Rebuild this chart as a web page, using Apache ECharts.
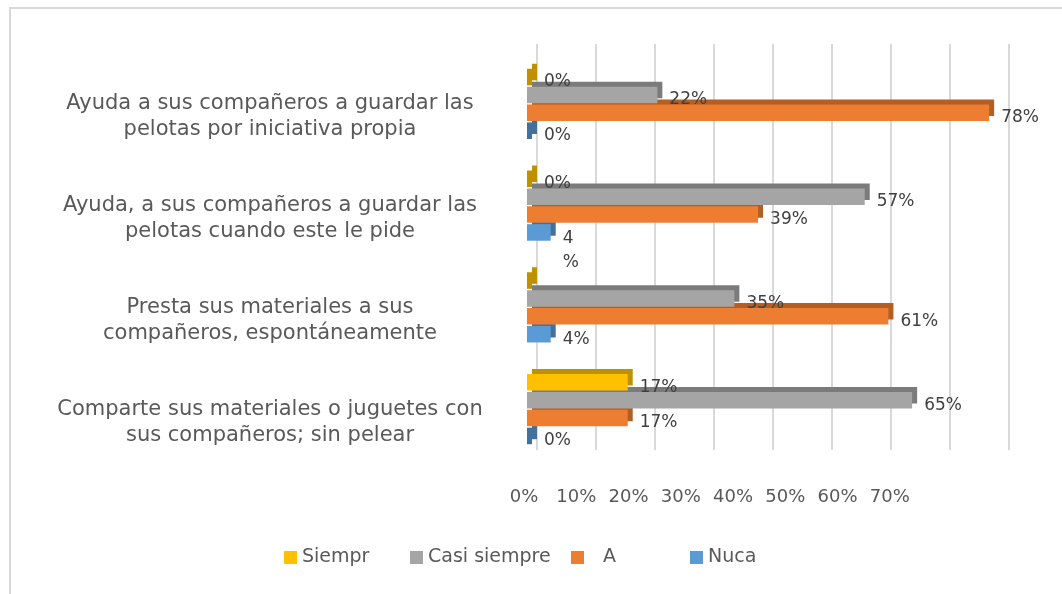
<!DOCTYPE html>
<html>
<head>
<meta charset="utf-8">
<script src="https://cdn.jsdelivr.net/npm/echarts@6/dist/echarts.min.js"></script>
<style>
  html, body { margin: 0; padding: 0; background: #fff; overflow: hidden; }
  #frame { position: absolute; left: 9px; top: 7px; width: 1100px; height: 640px; border: 2px solid #d9d9d9; box-sizing: border-box; }
  #chart { position: absolute; left: 0; top: 0; width: 1062px; height: 594px; }
</style>
</head>
<body>
<div id="frame"></div>
<div id="chart"></div>
<script>
// categorias (de arriba a abajo)
var categorias = [
  'Ayuda a sus compañeros a guardar las\npelotas por iniciativa propia',
  'Ayuda, a sus compañeros a guardar las\npelotas cuando este le pide',
  'Presta sus materiales a sus\ncompañeros, espontáneamente',
  'Comparte sus materiales o juguetes con\nsus compañeros; sin pelear'
];
var series_nombres = ['Siempr', 'Casi siempre', 'A', 'Nuca'];

// valores en %
var siempre = [0, 0, 0, 17];
var casiSiempre = [22, 57, 35, 65];
var aVeces = [78, 39, 61, 17];
var nunca = [0, 4, 4, 0];

// etiquetas del eje (0% .. 70%)
var ticks = [0, 10, 20, 30, 40, 50, 60, 70];

var colores = ['#FFC000', '#A5A5A5', '#ED7D31', '#5B9BD5'];
var oscuros = ['#BF9000', '#7B7B7B', '#B35E24', '#41719C'];

var fuente = 'DejaVu Sans';

var myChart = echarts.init(document.getElementById('chart'));

function serie(i, valores) {
  return {
    name: series_nombres[i],
    type: 'bar',
    xAxisIndex: 0,
    yAxisIndex: 0,
    z: 10 - i,  // las barras de arriba tapan la cara superior de las de abajo
    barGap: '8%',
    barCategoryGap: '31%',
    barMinHeight: 5,
    data: valores.map(function (v, k) {
      var item = { value: v };
      if (v === 0) item.itemStyle = { color: oscuros[i] };
      // en el original la etiqueta "4%" sale partida en dos lineas
      if (i === 3 && k === 1) item.label = { formatter: '{c}\n%', offset: [0, 18] };
      // y esta etiqueta no aparece
      if (i === 0 && k === 2) item.label = { show: false };
      return item;
    }),
    itemStyle: {
      color: colores[i],
      shadowColor: oscuros[i],
      shadowOffsetX: 5,
      shadowOffsetY: -5,
      shadowBlur: 0
    },
    label: {
      show: true,
      position: 'right',
      distance: 12,
      offset: [0, 5],
      fontFamily: fuente,
      fontSize: 17,
      color: '#404040',
      lineHeight: 24,
      formatter: '{c}%'
    }
  };
}

// una leyenda por serie, para colocarlas como en el original
var leyendaX = [279, 405, 566, 685];
var leyendas = series_nombres.map(function (n, i) {
  return {
    data: [n],
    left: leyendaX[i],
    top: 543,
    itemWidth: 13,
    itemHeight: 13,
    icon: 'rect',
    textStyle: {
      fontSize: 19,
      color: '#595959',
      padding: n === 'A' ? [0, 0, 0, 14] : 0
    }
  };
});

var option = {
  animation: false,
  textStyle: { fontFamily: fuente },
  grid: [
    // barras
    { left: 527, right: 61, top: 53, bottom: 134 },
    // pared del fondo (lineas de division)
    { left: 537, width: 472, top: 44, height: 406 },
    // borde del suelo (etiquetas del eje)
    { left: 524, width: 418, top: 463, height: 1 }
  ],
  legend: leyendas,
  xAxis: [
    {
      gridIndex: 0, type: 'value', min: 0, max: 80, interval: 10,
      axisLine: { show: false }, axisTick: { show: false },
      splitLine: { show: false }, axisLabel: { show: false }
    },
    {
      gridIndex: 1, type: 'value', min: 0, max: 80, interval: 10,
      axisLine: { show: false }, axisTick: { show: false },
      splitLine: { lineStyle: { color: '#d9d9d9', width: 2 } },
      axisLabel: { show: false }
    },
    {
      gridIndex: 2, type: 'value', min: 0, max: 80, interval: 10,
      axisLine: { show: false }, axisTick: { show: false },
      splitLine: { show: false },
      axisLabel: {
        margin: 24,
        fontSize: 18,
        color: '#595959',
        formatter: function (v) { return ticks.indexOf(v) >= 0 ? v + '%' : ''; }
      }
    }
  ],
  yAxis: [
    {
      gridIndex: 0,
      type: 'category',
      inverse: true,
      data: categorias,
      axisLine: { show: false },
      axisTick: { show: false },
      axisLabel: {
        align: 'center',
        margin: 257,
        fontSize: 21,
        lineHeight: 26,
        color: '#595959',
        // linea vacia arriba para bajar el texto como en el original
        formatter: function (v) { return '\n' + v; }
      }
    },
    { gridIndex: 1, type: 'value', show: false },
    { gridIndex: 2, type: 'value', show: false }
  ],
  series: [
    serie(0, siempre),
    serie(1, casiSiempre),
    serie(2, aVeces),
    serie(3, nunca)
  ]
};

myChart.setOption(option);
</script>
</body>
</html>
